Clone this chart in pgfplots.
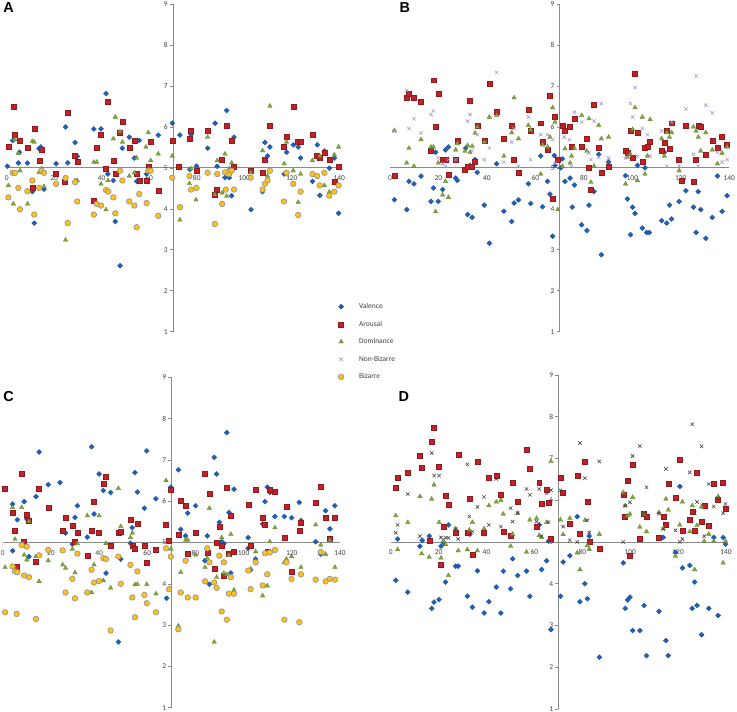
\documentclass[border=0pt]{standalone}
\usepackage{pgfplots}
\pgfplotsset{compat=1.18}
\usepackage{fontspec}
\setmainfont{Carlito}
\newfontfamily\letterfont{Liberation Sans}

\definecolor{val}{HTML}{2060B8}
\definecolor{valD}{HTML}{1A4E96}
\definecolor{aro}{HTML}{C42127}
\definecolor{aroD}{HTML}{8E1A1E}
\definecolor{dom}{HTML}{80A93A}
\definecolor{domD}{HTML}{5E7F28}
\definecolor{nbz}{HTML}{A797CC}
\definecolor{nbzD}{HTML}{404040}
\definecolor{biz}{HTML}{FFC20E}
\definecolor{bizD}{HTML}{8E8E9E}
\definecolor{axgray}{HTML}{8A8A8A}
\definecolor{lblgray}{HTML}{404040}

\pgfplotsset{
 panel/.style={scale only axis, axis lines=none, ticks=none, clip=false,
   xmin=0, xmax=140, ymin=1, ymax=9, anchor=south west},
 limg/.style={legend image code/.code={\path[draw=none, fill=none] (0pt,-1pt) rectangle (23pt,1pt);
   \draw[##1, only marks, mark repeat=2, mark phase=2] plot coordinates {(0pt,0pt) (6pt,0pt) (23pt,0pt)};}},
 sval/.style={only marks, mark=square*, mark size=1.8pt,
   mark options={rotate=45, fill=val, draw=valD, line width=0.3pt}, limg},
 saro/.style={only marks, mark=square*, mark size=2.5pt,
   mark options={fill=aro, draw=aroD, line width=0.4pt}, limg},
 sdom/.style={only marks, mark=triangle*, mark size=2.6pt,
   mark options={fill=dom, draw=domD, line width=0.3pt}, limg},
 snbz/.style={only marks, mark=x, mark size=2.4pt,
   mark options={draw=nbz, line width=0.6pt}, limg},
 snbzD/.style={only marks, mark=x, mark size=2.4pt,
   mark options={draw=nbzD, line width=0.6pt}},
 sbiz/.style={only marks, mark=*, mark size=2.8pt,
   mark options={fill=biz, draw=bizD, line width=0.6pt}, limg},
}

\newcommand{\midaxes}{%
  \draw[axgray, line width=0.9pt] (axis cs:0,5) -- (axis cs:140,5);
  \draw[axgray, line width=0.9pt] (axis cs:70,1) -- (axis cs:70,9);
  \pgfplotsinvokeforeach{1,...,9}{%
    \draw[axgray, line width=0.6pt] (axis cs:70,##1) -- ++(-3pt,0pt)
      node[anchor=east, inner sep=2pt, font=\fontsize{7.5}{8}\selectfont, text=lblgray]{##1};}
  \pgfplotsinvokeforeach{0,20,...,140}{%
    \node[anchor=north, inner sep=0pt, yshift=-7.5pt, font=\fontsize{7.5}{8}\selectfont, text=lblgray]
      at (axis cs:##1,5) {##1};}
}

\begin{document}
\begin{tikzpicture}[x=1bp, y=1bp]
\path[use as bounding box] (0bp,0bp) rectangle (737bp,712bp);

% ---------------- Panel A ----------------
\begin{axis}[panel, at={(6.7bp,380.3bp)}, width=332.6bp, height=327.7bp,
  legend style={at={(0.987,0.0906)}, anchor=north west, draw=none, fill=none,
    font=\fontsize{7.5}{8}\selectfont, text=lblgray, inner sep=0pt, row sep=8.6pt,
    nodes={inner sep=1pt, text height=5.5pt, text depth=1.5pt}, cells={anchor=west}},
  legend entries={Valence, Arousal, Dominance, Non-Bizarre, Bizarre}]
\midaxes
\addplot[sval] coordinates {(0.3,5.04) (2.5,5.67) (5.3,5.38) (4.9,5.12) (8.7,5.12) (10.8,4.42) (11.6,3.65) (13.6,5.47) (14.4,5.51) (15.7,4.48) (20.8,5.10) (24.8,6.00) (25.7,5.12) (28.8,5.62) (29.7,5.28) (36.7,5.95) (39.7,5.95) (41.8,6.81) (42.6,4.85) (44.9,4.69) (45.7,3.69) (47.7,2.61) (48.7,5.48) (51.6,5.75) (53.7,5.24) (54.7,4.67) (55.8,5.67) (58.9,4.85) (63.8,5.80) (69.7,6.09) (72.9,5.80) (77.1,4.96) (77.6,5.81) (79.9,5.04) (84.6,5.48) (87.7,6.09) (88.6,5.04) (91.9,4.76) (92.6,6.40) (93.7,4.76) (94.7,4.32) (95.7,5.75) (102.8,3.98) (107.7,4.42) (108.7,5.62) (109.8,5.29) (110.8,5.51) (116.8,4.85) (117.8,5.38) (120.6,5.56) (122.7,5.51) (123.7,5.24) (128.7,4.67) (130.7,5.56) (131.8,4.33) (133.7,5.41) (135.8,4.99) (137.9,5.24) (139.7,3.89)};
\addplot[saro] coordinates {(0.7,5.51) (2.8,6.49) (3.5,5.81) (5.6,5.67) (8.7,5.48) (10.8,4.51) (11.6,5.95) (13.7,5.18) (14.7,5.45) (20.8,4.85) (24.5,4.67) (25.7,6.35) (28.8,5.29) (29.7,5.14) (36.7,4.19) (37.9,5.50) (39.7,5.81) (41.8,4.99) (42.6,6.62) (44.9,5.18) (45.7,4.85) (47.7,5.86) (48.7,6.13) (51.6,5.48) (53.7,5.67) (54.7,4.85) (55.8,4.69) (58.9,4.69) (59.6,5.04) (60.6,5.63) (63.8,4.44) (69.7,5.67) (72.6,5.04) (76.9,5.71) (77.6,5.90) (79.9,4.93) (84.6,5.90) (87.6,4.35) (88.5,4.46) (90.7,5.19) (92.6,6.04) (94.7,5.67) (95.7,5.04) (102.7,4.93) (107.7,4.89) (108.7,5.19) (110.5,6.04) (116.7,5.51) (117.8,5.75) (120.6,6.49) (122.4,5.63) (123.7,5.63) (128.7,5.81) (130.4,5.29) (131.8,5.24) (133.7,5.38) (135.8,5.19) (137.9,4.67) (139.7,5.04)};
\addplot[sdom] coordinates {(0.7,4.57) (2.8,4.12) (3.5,5.69) (4.9,5.36) (5.6,4.93) (8.8,4.12) (10.8,5.65) (11.6,5.63) (13.6,4.89) (14.7,4.98) (15.7,4.54) (24.8,3.24) (28.8,4.69) (29.7,4.69) (36.7,5.14) (37.9,5.14) (39.7,4.61) (41.8,3.98) (42.6,4.69) (44.9,5.71) (45.7,6.24) (47.7,5.89) (48.7,5.63) (51.6,4.80) (53.7,4.88) (54.7,5.24) (58.6,5.51) (59.6,5.86) (60.6,5.18) (63.8,5.34) (69.7,5.29) (72.9,3.73) (76.9,4.62) (77.6,4.98) (79.7,4.22) (84.6,5.75) (87.6,4.35) (88.6,5.18) (90.7,4.39) (91.9,5.34) (92.6,4.31) (93.7,4.98) (94.7,5.12) (102.7,4.88) (107.7,5.42) (109.8,4.80) (110.8,6.51) (116.8,5.10) (117.8,5.63) (120.6,4.93) (122.7,4.16) (123.7,4.85) (128.7,5.18) (131.8,5.29) (133.7,4.57) (135.8,4.41) (137.9,5.32) (139.7,5.51)};
\addlegendimage{snbz}
\addplot[sbiz] coordinates {(0.7,4.28) (2.5,4.88) (3.5,4.88) (4.9,4.51) (5.6,3.99) (8.7,4.43) (10.8,4.69) (11.6,3.86) (13.7,4.51) (14.7,4.93) (15.7,4.88) (20.8,4.61) (24.8,4.75) (25.7,3.65) (28.8,4.65) (29.7,4.18) (36.7,3.86) (37.9,4.12) (39.7,4.08) (41.8,4.46) (42.8,4.42) (44.9,4.28) (45.7,3.89) (47.7,4.93) (48.7,4.69) (51.6,4.18) (53.7,4.08) (54.7,3.55) (55.8,4.36) (58.9,4.14) (59.6,4.93) (60.6,4.93) (63.8,3.83) (69.7,4.76) (72.9,4.04) (76.9,4.80) (77.6,4.47) (79.9,4.51) (84.6,4.88) (87.6,3.63) (88.6,4.85) (90.7,4.12) (91.9,4.89) (92.2,4.47) (93.7,4.85) (94.7,4.93) (95.7,4.47) (102.7,4.76) (107.7,4.47) (108.7,4.61) (109.8,4.69) (110.8,4.93) (116.7,4.18) (117.8,4.88) (120.6,4.61) (122.7,3.85) (123.7,4.42) (128.7,4.85) (130.7,4.80) (131.8,4.57) (133.7,4.88) (135.8,4.32) (137.9,4.42) (139.7,4.57)};
\end{axis}

% ---------------- Panel B ----------------
\begin{axis}[panel, at={(390bp,380.3bp)}, width=339.3bp, height=327.7bp]
\midaxes
\addplot[sval] coordinates {(1.8,4.22) (6.9,3.98) (7.8,4.67) (9.9,4.61) (12.8,4.80) (16.9,4.18) (17.9,4.51) (18.8,5.38) (19.9,4.18) (21.7,4.47) (22.9,5.44) (24.1,5.51) (27.1,4.75) (27.8,4.69) (31.2,5.48) (32.0,3.86) (33.0,5.06) (33.9,3.79) (35.1,5.20) (36.0,4.89) (38.9,4.09) (41.0,3.16) (44.0,5.10) (47.0,3.94) (50.2,3.69) (51.2,4.14) (53.0,4.22) (57.1,4.61) (58.0,4.13) (62.2,5.29) (63.0,4.05) (65.0,4.67) (66.0,4.36) (67.1,3.33) (67.8,5.30) (68.1,5.06) (71.1,5.22) (70.5,5.00) (72.2,4.67) (74.3,4.75) (75.2,4.04) (76.1,4.58) (79.1,3.61) (81.2,3.47) (82.1,4.09) (84.2,4.42) (86.1,5.33) (87.2,2.88) (90.2,5.14) (97.2,4.81) (97.9,4.24) (99.2,3.37) (100.1,4.04) (101.1,3.89) (102.1,5.06) (104.1,3.53) (105.2,5.00) (105.9,3.42) (107.0,3.42) (112.1,3.71) (113.2,5.38) (114.2,3.65) (115.3,4.09) (116.2,3.75) (119.3,4.18) (120.2,4.67) (122.1,4.44) (125.2,4.04) (126.3,3.42) (127.2,4.42) (128.2,3.98) (130.3,3.28) (133.0,3.79) (135.1,4.80) (137.0,3.94) (139.1,4.32)};
\addplot[saro] coordinates {(1.8,4.80) (6.9,6.71) (7.8,6.81) (9.9,6.71) (12.8,6.62) (16.9,5.41) (17.9,7.14) (18.8,6.00) (19.9,6.81) (21.7,5.20) (22.9,5.20) (24.1,4.84) (27.1,5.20) (27.8,5.67) (30.9,4.95) (32.0,5.02) (33.0,6.65) (33.9,5.02) (35.1,5.14) (36.0,6.04) (38.9,5.67) (41.0,7.06) (44.0,6.38) (47.0,5.71) (50.2,6.04) (51.2,5.20) (53.0,4.87) (57.1,6.43) (58.0,5.90) (62.2,6.09) (63.0,5.63) (65.0,5.44) (66.0,6.76) (67.1,4.24) (67.8,6.24) (69.2,5.20) (71.1,6.04) (72.2,5.90) (74.3,6.00) (74.9,5.51) (76.1,6.20) (79.1,5.51) (81.2,5.71) (82.1,5.00) (82.9,4.47) (84.2,6.53) (86.1,5.48) (87.2,4.89) (90.2,5.02) (97.2,5.41) (97.9,5.36) (99.2,5.90) (100.1,5.24) (101.1,7.29) (102.1,5.86) (104.1,5.14) (105.2,5.48) (106.2,5.51) (107.0,5.63) (112.1,5.42) (113.2,5.61) (114.2,5.90) (115.3,5.46) (116.2,6.09) (119.3,5.20) (120.2,4.69) (122.1,6.04) (125.2,4.67) (126.3,5.20) (127.2,6.04) (128.2,6.00) (130.3,5.33) (133.0,5.67) (135.1,5.48) (137.0,5.75) (139.1,5.57)};
\addplot[sdom] coordinates {(1.8,5.91) (6.9,5.12) (7.8,5.48) (9.9,5.04) (12.8,5.69) (16.9,5.51) (17.9,5.51) (18.8,3.93) (19.9,5.12) (21.7,4.34) (22.9,4.67) (24.1,4.28) (27.1,5.44) (27.8,5.59) (30.9,5.41) (32.0,5.55) (33.0,5.38) (33.9,5.53) (35.1,5.85) (36.0,6.00) (38.9,5.63) (41.0,6.24) (44.0,6.28) (47.0,5.29) (50.2,5.86) (51.2,6.71) (53.0,5.71) (57.1,6.04) (58.0,5.93) (62.2,4.85) (63.0,5.56) (65.0,5.51) (66.0,5.75) (67.1,6.47) (68.1,6.12) (69.2,3.98) (71.1,5.04) (72.2,5.47) (74.3,5.12) (74.9,5.29) (76.1,5.48) (79.1,6.28) (81.2,5.41) (82.1,6.20) (82.9,4.65) (84.2,5.04) (86.1,6.04) (87.2,5.71) (90.2,5.75) (97.2,4.61) (97.9,5.26) (99.2,5.33) (100.1,5.94) (101.1,6.47) (102.1,4.69) (104.1,6.24) (105.2,4.85) (106.2,5.29) (107.3,6.18) (112.1,5.71) (113.2,5.29) (114.2,5.86) (115.3,5.75) (116.2,5.86) (119.3,4.93) (125.2,6.00) (126.3,5.90) (127.2,5.75) (128.2,5.41) (130.3,5.86) (133.0,5.44) (135.1,5.10) (137.0,5.36) (139.1,5.51)};
\addplot[snbz] coordinates {(1.8,5.90) (6.9,6.89) (7.8,5.96) (9.9,6.20) (12.8,5.85) (16.9,6.30) (17.9,6.39) (19.9,5.24) (21.7,5.10) (22.9,5.04) (24.1,5.20) (27.1,5.20) (32.0,6.14) (33.0,6.30) (33.9,5.42) (36.0,5.81) (38.9,5.20) (41.0,5.48) (44.0,7.33) (47.0,5.14) (50.2,5.63) (51.2,5.96) (53.0,5.04) (57.1,6.24) (58.0,5.20) (62.2,5.81) (65.0,5.81) (67.1,5.69) (68.1,5.12) (71.9,5.75) (74.0,5.69) (74.9,5.04) (76.1,6.36) (79.1,6.12) (82.1,5.36) (82.9,5.20) (84.2,6.14) (86.1,5.26) (87.2,6.57) (90.2,5.24) (97.2,5.24) (99.2,6.57) (100.1,6.24) (101.1,6.96) (102.1,5.28) (104.1,5.96) (106.2,5.81) (107.3,5.29) (112.1,5.90) (114.2,5.04) (116.2,6.12) (119.3,5.04) (122.1,6.44) (125.2,5.33) (126.3,7.24) (127.2,5.04) (130.3,6.53) (133.0,6.34) (135.1,5.38) (137.0,5.14) (139.1,5.20)};
\end{axis}

% ---------------- Panel C ----------------
\begin{axis}[panel, at={(2.7bp,4.3bp)}, width=337.3bp, height=330.4bp]
\midaxes
\addplot[sval] coordinates {(4.1,5.93) (4.1,4.80) (6.1,5.55) (8.9,5.99) (10.0,5.57) (10.9,4.66) (13.8,6.11) (15.1,7.19) (18.9,6.40) (23.8,6.45) (26.1,5.23) (28.9,4.96) (30.0,5.61) (31.0,5.89) (35.1,5.13) (36.9,7.32) (37.9,5.69) (40.0,6.66) (41.8,6.26) (42.9,4.26) (44.8,6.21) (48.0,2.59) (49.0,4.60) (53.0,4.98) (53.8,5.36) (54.9,6.69) (55.9,6.22) (58.8,5.83) (59.8,7.22) (63.6,6.06) (68.0,3.65) (69.8,6.34) (72.9,6.76) (73.9,5.32) (75.9,5.16) (76.8,5.71) (80.1,5.89) (83.9,4.56) (84.9,5.16) (85.8,3.99) (87.8,7.06) (88.8,6.66) (89.9,5.49) (90.9,5.02) (91.8,4.97) (93.0,7.66) (93.9,5.73) (94.7,4.26) (96.0,6.29) (101.9,5.12) (101.9,4.86) (102.9,4.34) (105.0,4.60) (107.9,5.45) (108.9,5.99) (109.8,6.34) (110.9,6.21) (113.0,5.63) (116.9,5.63) (117.8,5.87) (119.9,5.60) (123.1,5.97) (123.8,5.53) (129.9,5.02) (132.0,4.72) (134.0,5.77) (135.8,5.33) (137.9,5.89)};
\addplot[saro] coordinates {(1.0,6.30) (4.1,5.71) (5.1,5.29) (5.8,4.42) (7.9,6.66) (8.9,5.02) (10.0,5.67) (10.9,5.53) (13.8,4.54) (15.1,6.30) (18.9,5.85) (24.9,5.29) (26.1,5.60) (28.9,5.40) (30.0,5.02) (31.0,5.23) (35.1,4.69) (36.9,5.29) (37.9,5.99) (40.0,5.23) (41.8,6.42) (42.9,6.60) (44.8,4.93) (48.0,5.23) (49.0,5.27) (53.0,5.56) (53.8,4.93) (54.9,4.86) (55.9,5.45) (58.8,4.93) (59.8,4.50) (63.6,4.82) (67.8,5.43) (69.0,5.05) (69.8,6.27) (72.9,5.20) (73.9,6.02) (75.9,5.89) (76.8,4.73) (80.1,5.23) (84.0,6.66) (84.9,4.76) (85.8,6.17) (87.8,4.36) (88.8,5.00) (89.9,5.39) (90.9,4.92) (91.8,4.19) (93.0,6.33) (93.9,4.73) (94.7,5.65) (96.0,4.78) (101.9,5.91) (102.9,4.92) (105.0,6.27) (107.9,5.60) (108.9,5.43) (109.8,4.78) (110.9,6.27) (113.0,6.22) (116.9,5.12) (117.8,5.87) (119.9,4.30) (123.1,5.29) (123.8,5.47) (129.9,5.97) (132.0,6.35) (134.0,5.60) (135.8,5.10) (137.9,5.60)};
\addplot[sdom] coordinates {(1.0,4.40) (4.1,5.85) (5.1,5.08) (7.9,5.85) (8.9,4.70) (10.0,4.58) (10.9,5.51) (13.8,4.66) (15.1,4.06) (18.9,4.56) (24.9,4.46) (26.1,4.38) (28.9,4.84) (30.0,4.27) (31.0,4.97) (35.1,5.65) (36.9,3.79) (37.9,4.46) (40.0,5.65) (41.8,4.08) (42.9,4.98) (44.8,3.90) (48.0,6.31) (49.0,5.39) (53.0,5.12) (53.8,5.23) (54.9,3.98) (55.9,3.99) (59.8,3.99) (63.6,3.76) (67.8,6.50) (69.8,4.84) (72.9,2.98) (73.9,4.28) (75.9,5.06) (76.8,5.06) (80.1,4.70) (84.0,4.40) (84.9,4.62) (85.8,5.83) (87.8,2.59) (88.8,4.16) (89.9,4.68) (90.9,5.12) (91.8,4.26) (93.0,4.22) (93.9,4.69) (94.7,5.20) (96.0,3.85) (102.9,4.36) (105.0,4.78) (107.9,3.71) (109.8,3.95) (110.9,5.02) (113.0,5.36) (116.9,4.52) (117.8,4.60) (119.9,4.66) (123.8,4.40) (129.9,5.43) (132.0,4.94) (134.0,4.72) (135.8,5.05) (137.9,4.40)};
\addplot[sbiz] coordinates {(1.0,3.31) (4.1,4.42) (5.1,4.30) (5.8,3.27) (6.1,4.28) (7.9,4.94) (8.9,4.20) (10.0,4.90) (10.9,4.16) (13.8,3.15) (15.1,4.69) (18.9,4.82) (24.9,4.81) (26.1,3.79) (28.9,4.12) (30.0,3.65) (31.0,4.73) (35.1,3.79) (36.9,4.34) (37.9,4.03) (40.0,4.07) (41.8,4.62) (42.9,4.60) (44.8,2.87) (48.0,4.66) (49.0,4.00) (53.0,4.46) (53.8,3.67) (54.9,3.19) (55.9,4.30) (58.8,3.73) (59.8,3.53) (63.6,3.31) (67.8,4.86) (69.0,3.87) (69.8,4.66) (72.9,2.90) (73.9,3.79) (75.9,4.56) (76.8,3.67) (80.1,3.67) (84.0,4.06) (84.9,4.86) (85.8,4.52) (87.8,4.03) (88.8,3.90) (89.9,4.68) (90.9,3.33) (91.8,4.52) (93.0,3.13) (93.9,3.76) (94.7,4.16) (96.0,3.76) (101.9,4.32) (102.9,3.87) (105.0,4.52) (107.9,3.96) (108.9,4.74) (109.8,4.23) (110.9,4.76) (113.0,4.82) (116.9,3.13) (117.8,4.52) (119.9,4.12) (123.1,3.07) (123.8,4.23) (129.9,4.10) (132.0,4.77) (134.0,4.06) (135.8,4.12) (137.9,4.10)};
\end{axis}

% ---------------- Panel D ----------------
\begin{axis}[panel, at={(390.7bp,3bp)}, width=335.3bp, height=334bp]
\midaxes
\addplot[sval] coordinates {(2.1,4.08) (2.9,5.07) (7.1,3.80) (12.2,4.90) (13.2,5.04) (16.1,5.14) (17.1,3.41) (18.1,3.56) (20.2,3.62) (21.0,4.90) (22.0,4.99) (22.9,4.04) (24.1,5.41) (27.1,4.42) (28.2,4.42) (32.0,3.70) (33.1,5.19) (34.1,3.44) (36.2,4.31) (39.0,3.30) (41.0,3.57) (44.1,3.92) (46.0,3.30) (47.0,4.30) (50.1,3.88) (50.9,4.60) (53.0,4.20) (56.7,4.30) (58.1,3.70) (62.0,5.41) (63.0,4.34) (65.1,4.55) (65.9,5.02) (66.9,2.90) (70.9,3.70) (72.0,4.52) (74.8,4.67) (77.9,5.61) (79.0,3.57) (81.1,4.00) (82.1,3.64) (82.9,5.14) (87.1,2.24) (97.1,4.50) (97.9,3.41) (98.9,3.61) (99.9,3.68) (101.0,2.88) (104.0,2.88) (105.8,3.48) (106.8,2.28) (112.0,3.34) (113.8,5.11) (114.9,2.64) (115.9,2.28) (118.9,4.75) (120.7,6.33) (121.8,4.38) (124.9,4.44) (125.9,3.41) (126.9,4.04) (127.9,3.48) (129.8,2.78) (132.8,3.41) (134.9,5.11) (136.7,3.24) (138.8,5.11) (139.8,4.95)};
\addplot[saro] coordinates {(2.1,6.31) (2.9,6.53) (7.1,6.67) (12.2,7.07) (12.9,6.78) (16.1,5.04) (17.1,7.41) (18.1,7.73) (20.2,6.81) (21.0,4.46) (22.0,5.36) (22.9,6.11) (24.1,5.89) (27.1,5.22) (28.2,7.10) (32.0,5.22) (32.8,6.04) (34.1,4.70) (36.2,6.93) (39.0,5.22) (41.0,6.53) (44.1,6.59) (46.0,6.13) (47.0,5.25) (50.1,5.14) (50.9,6.43) (53.0,5.97) (56.7,7.22) (58.1,6.75) (60.9,5.37) (62.0,6.41) (63.0,5.91) (65.1,6.25) (65.9,5.93) (66.9,5.07) (70.9,6.53) (72.0,6.17) (74.8,5.44) (77.9,6.59) (79.0,5.20) (81.1,6.93) (82.1,5.97) (82.9,5.00) (87.1,4.84) (97.1,6.13) (97.9,5.61) (98.9,6.47) (99.9,4.67) (101.0,6.86) (104.0,5.07) (105.8,5.68) (106.8,5.61) (112.0,5.11) (113.8,5.61) (114.9,5.41) (115.9,6.39) (118.9,6.07) (120.7,6.97) (121.8,5.28) (124.9,5.53) (125.9,5.73) (126.9,5.27) (127.9,6.67) (129.8,5.48) (130.9,5.87) (132.8,5.40) (134.9,6.39) (136.7,6.01) (138.8,6.43) (139.8,5.79)};
\addplot[sdom] coordinates {(2.1,5.63) (2.9,4.82) (7.1,5.47) (12.2,6.09) (12.9,4.72) (16.1,4.64) (17.1,6.03) (18.1,6.37) (20.2,5.47) (21.0,4.62) (22.0,5.02) (22.9,4.94) (24.1,4.20) (27.1,5.32) (28.2,4.79) (32.0,4.82) (32.8,5.29) (34.1,5.47) (36.2,4.79) (39.0,5.32) (41.0,5.87) (44.1,5.96) (46.0,6.00) (47.0,5.67) (50.1,4.90) (50.9,5.19) (53.0,5.69) (56.7,4.76) (58.1,5.53) (60.9,5.57) (62.0,5.16) (63.0,5.11) (65.1,5.47) (66.9,6.93) (70.9,5.53) (72.0,5.18) (74.8,5.57) (77.9,4.74) (79.0,4.34) (81.1,5.52) (82.1,4.92) (82.9,4.83) (87.1,5.19) (97.1,6.19) (97.9,5.87) (98.9,5.63) (99.9,5.67) (101.0,6.07) (104.0,5.36) (105.8,5.67) (106.8,5.25) (112.0,5.71) (113.8,5.32) (114.9,6.03) (115.9,5.77) (118.9,4.66) (120.7,5.41) (121.8,5.96) (124.9,5.25) (125.9,5.87) (126.9,4.34) (127.9,5.40) (129.8,5.84) (130.9,5.02) (132.8,5.19) (134.9,5.02) (136.7,6.09) (138.8,4.50) (139.8,5.02)};
\addplot[snbzD] coordinates {(2.1,5.22) (2.9,5.41) (7.1,6.15) (12.2,5.14) (17.1,7.13) (18.1,6.59) (20.2,6.59) (21.0,5.11) (22.9,5.10) (24.1,5.10) (27.1,5.31) (28.2,5.07) (32.0,6.86) (32.8,5.61) (34.1,5.25) (36.2,5.84) (39.0,6.08) (41.0,5.41) (44.1,6.51) (46.0,5.37) (50.1,5.81) (50.9,5.49) (53.0,5.69) (56.7,6.27) (58.1,6.13) (60.9,5.49) (62.0,6.27) (63.0,5.14) (65.1,6.17) (65.9,5.48) (66.9,6.24) (70.9,6.24) (72.0,5.37) (74.8,5.04) (77.9,5.00) (79.0,7.37) (81.1,6.53) (82.1,5.52) (82.9,5.23) (87.1,6.93) (97.1,5.00) (97.9,5.87) (98.9,6.47) (99.9,5.95) (101.0,7.06) (104.0,7.30) (105.8,5.68) (106.8,6.31) (112.0,5.68) (113.8,5.31) (114.9,6.75) (115.9,6.39) (118.9,5.28) (120.7,5.00) (121.8,5.07) (124.9,6.67) (125.9,7.82) (126.9,5.69) (127.9,5.96) (129.8,7.29) (130.9,5.14) (132.8,6.39) (134.9,5.85) (136.7,6.05) (138.8,5.69) (139.8,5.91)};
\end{axis}

% panel letters
\node[anchor=north west, inner sep=0pt, font=\letterfont\bfseries\fontsize{14.5}{15}\selectfont] at (3.3bp,709.3bp) {A};
\node[anchor=north west, inner sep=0pt, font=\letterfont\bfseries\fontsize{14.5}{15}\selectfont] at (399.3bp,709.3bp) {B};
\node[anchor=north west, inner sep=0pt, font=\letterfont\bfseries\fontsize{14.5}{15}\selectfont] at (3.3bp,320.3bp) {C};
\node[anchor=north west, inner sep=0pt, font=\letterfont\bfseries\fontsize{14.5}{15}\selectfont] at (398.3bp,320.3bp) {D};
\end{tikzpicture}
\end{document}
